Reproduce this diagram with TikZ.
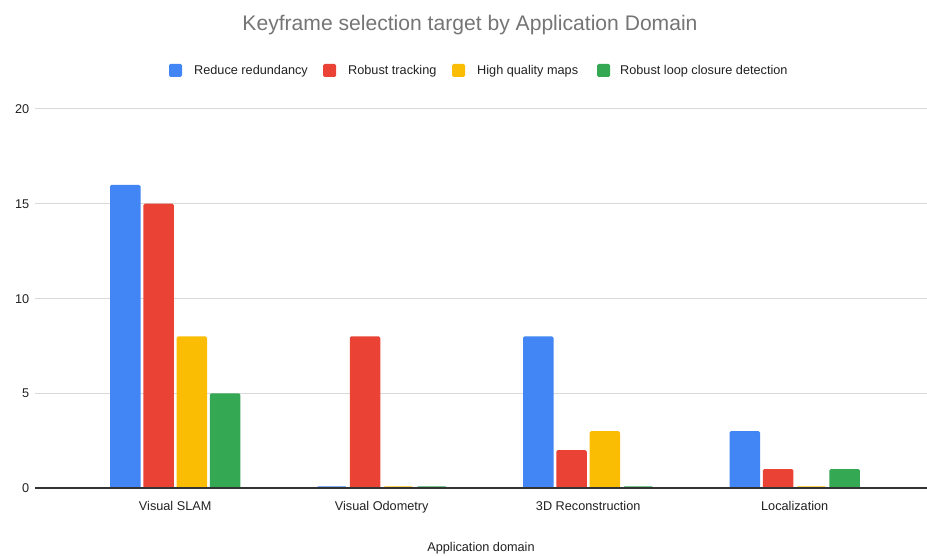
\documentclass[tikz,border=0pt]{standalone}
\usepackage{fontspec}
\setmainfont{Liberation Sans}
\definecolor{cblue}{HTML}{4285F4}
\definecolor{cred}{HTML}{EA4335}
\definecolor{cyellow}{HTML}{FBBC04}
\definecolor{cgreen}{HTML}{34A853}
\definecolor{gridgray}{HTML}{D9D9D9}
\definecolor{axisgray}{HTML}{333333}
\definecolor{textgray}{HTML}{222222}
\definecolor{titlegray}{HTML}{757575}
\begin{document}
\begin{tikzpicture}[x=1pt,y=-1pt,
  gridline/.style={draw=gridgray, line width=1pt},
  axisline/.style={draw=axisgray, line width=1.2pt},
  bar/.style={rounded corners=1.5pt},
  lbl/.style={font=\fontsize{12.7}{14}\selectfont, text=textgray, inner sep=0pt, text height=9.2pt, text depth=2.7pt},
  legsq/.style={rounded corners=1.5pt}]
\useasboundingbox (0,0) rectangle (927,556);
\fill[white] (0,0) rectangle (927,556);
% title
\node[font=\fontsize{21.1}{25}\selectfont, text=titlegray, inner sep=0pt] (title) at (470,25) {Keyframe selection target by Application Domain};
% legend
\foreach \sx/\tx/\col/\txt [count=\k] in {169/194/cblue/Reduce redundancy, 323/348/cred/Robust tracking, 452/477/cyellow/High quality maps, 597/620/cgreen/Robust loop closure detection}{
  \fill[\col, legsq] (\sx,64) rectangle ++(13,13);
  \node[lbl, anchor=west] (leg\k) at (\tx,71) {\txt};
}
% grid and y ticks
\foreach \v/\y in {5/393.25,10/298.5,15/203.75,20/109}{
  \draw[gridline] (35,\y) -- (927,\y);
  \node[lbl, anchor=east] (tick\v) at (29.5,\y+1.4) {\v};
}
\node[lbl, anchor=east] (tick0) at (29.5,489.4) {0};
% bars
\foreach \g/\lab/\a/\b/\c/\d in {0/Visual SLAM/16/15/8/5, 1/Visual Odometry/0/8/0/0, 2/3D Reconstruction/8/2/3/0, 3/Localization/3/1/0/1}{
  \foreach \i/\val/\col in {0/\a/cblue, 1/\b/cred, 2/\c/cyellow, 3/\d/cgreen}{
    \pgfmathsetmacro\xs{110+206.5*\g+33.3*\i}
    \pgfmathsetmacro\h{max(\val*18.95,1.6)}
    \fill[\col, bar] (\xs,488.5) rectangle ++(30.5,-\h-0.5);
  }
  \pgfmathsetmacro\cx{110+206.5*\g+65.2}
  \node[lbl] (cat\g) at (\cx,507.5) {\lab};
}
% axis
\draw[axisline] (35,488) -- (927,488);
\node[lbl] (xtitle) at (481,548) {Application domain};
\end{tikzpicture}
\end{document}
